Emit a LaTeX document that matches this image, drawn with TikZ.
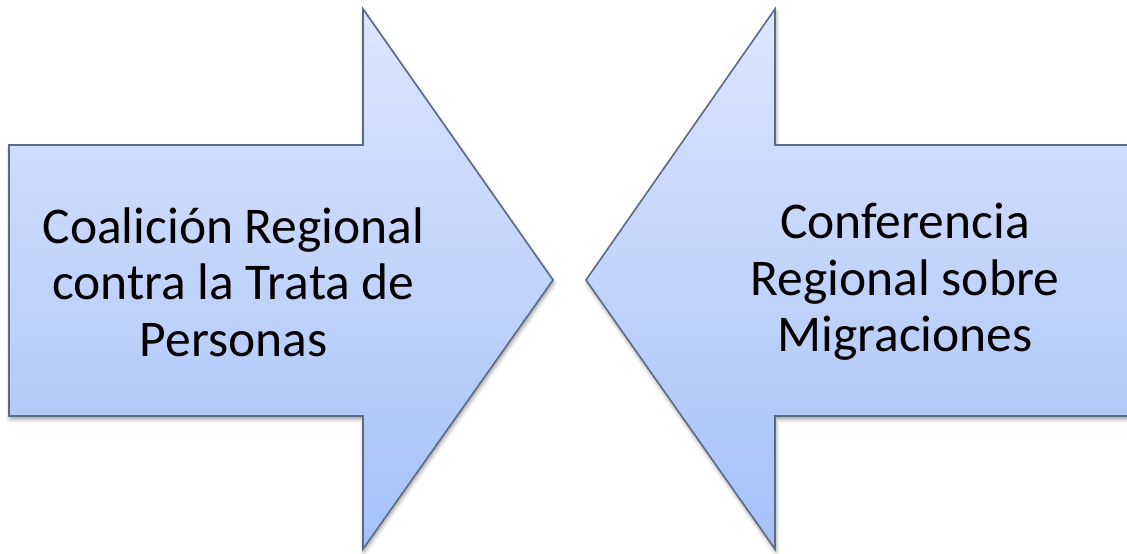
\documentclass[tikz,border=0pt]{standalone}
\usepackage{fontspec}
\setmainfont{Carlito}
\usetikzlibrary{shadows.blur}
\definecolor{arrtop}{HTML}{DCE6FD}
\definecolor{arrbot}{HTML}{A5C1F8}
\definecolor{arredge}{HTML}{5C6A85}
\begin{document}
\begin{tikzpicture}[x=1pt,y=-1pt,
  arrowshape/.style={draw=arredge, line width=1.6pt, line join=miter,
    top color=arrtop, bottom color=arrbot,
    blur shadow={shadow xshift=1pt, shadow yshift=-3pt, shadow blur radius=4pt, shadow opacity=40}},
  label/.style={align=center, font=\fontsize{51.5}{56.5}\selectfont, text=black, inner sep=0pt}]
\useasboundingbox (0,0) rectangle (1127,554);
\clip (0,0) rectangle (1127,554);
\path[arrowshape] (9,145) -- (363,145) -- (363,9) -- (553,280) -- (363,549) -- (363,416) -- (9,416) -- cycle;
\path[arrowshape] (1140,145) -- (775,145) -- (775,9) -- (586,280) -- (775,549) -- (775,416) -- (1140,416) -- cycle;
\node[label] (coal) at (233.5,282) {Coalición Regional\\contra la Trata de\\Personas};
\node[label] (conf) at (905,282) {Conferencia\\Regional sobre\\Migraciones};
\end{tikzpicture}
\end{document}
